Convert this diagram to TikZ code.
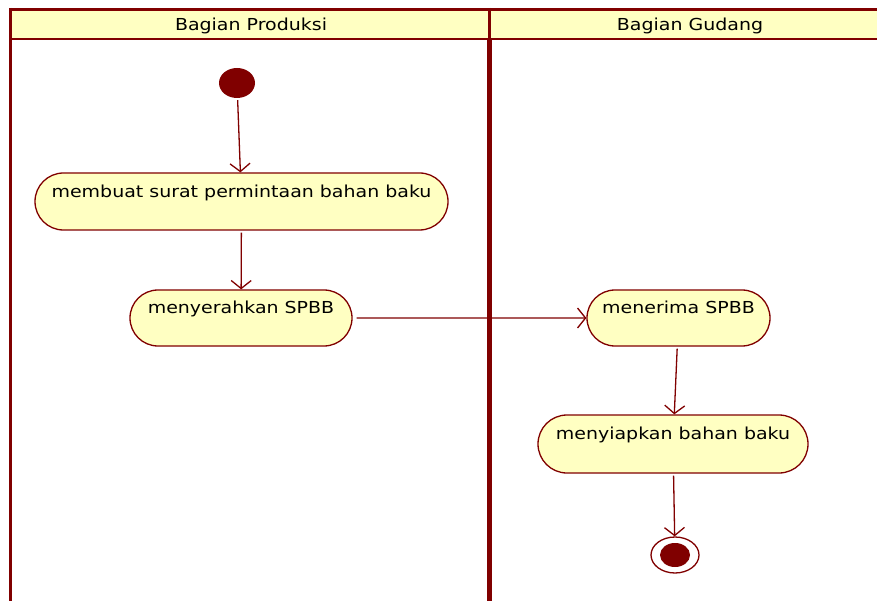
\documentclass[tikz,border=0pt]{standalone}
\usepackage{fontspec}
\setmainfont{DejaVu Sans}
\newfontfamily\umlfont[FakeStretch=1.15]{DejaVu Sans}
\usetikzlibrary{shapes.misc,shapes.geometric,arrows.meta}
\definecolor{umlred}{RGB}{128,0,0}
\definecolor{umlfill}{RGB}{255,255,194}
% label that does not widen its activity box
\newcommand\acttext[1]{\makebox[0pt]{#1}}
\tikzset{
  umltext/.style={font=\umlfont\fontsize{16.5}{18}\selectfont},
  activity/.style={umltext, rounded rectangle, draw=umlred, fill=umlfill, line width=1.3pt,
    inner xsep=0pt, inner ysep=0pt, text height=23.5pt, text depth=32pt},
  flow/.style={draw=umlred, line width=1.3pt, -{Straight Barb[length=8pt,width=20pt,line width=1.3pt]}},
  lanetitle/.style={umltext},
}
\begin{document}
\begin{tikzpicture}[x=1pt,y=-1pt]
\useasboundingbox (0,0) rectangle (877,601);
% swimlane header band and frame
\fill[umlfill] (10,10) rectangle (877,39);
\draw[umlred, line width=3pt] (10,9.5) -- (877,9.5);
\draw[umlred, line width=2pt] (10,39.5) -- (877,39.5);
\draw[umlred, line width=3pt] (10,8) -- (10,601);
\draw[umlred, line width=3pt] (489.5,8) -- (489.5,40);
\draw[umlred, line width=5pt] (489.5,40) -- (489.5,601);
\node[lanetitle] (lane1) at (251,26) {Bagian Produksi};
\node[lanetitle] (lane2) at (690,26) {Bagian Gudang};

% initial state
\node[ellipse, fill=umlred, minimum width=36pt, minimum height=30pt, inner sep=0pt] (start) at (237,83) {};

% activities
\node[activity, minimum width=413pt, minimum height=57pt] (a1) at (241.5,201.5) {\acttext{membuat surat permintaan bahan baku}};
\node[activity, minimum width=222pt, minimum height=56pt] (a2) at (241,318) {\acttext{menyerahkan SPBB}};
\node[activity, minimum width=183pt, minimum height=56pt] (a3) at (678.5,318) {\acttext{menerima SPBB}};
\node[activity, minimum width=270pt, minimum height=58pt] (a4) at (673,444) {\acttext{menyiapkan bahan baku}};

% final state
\node[ellipse, draw=umlred, line width=1.3pt, fill=white, minimum width=48pt, minimum height=36pt, inner sep=0pt] (end) at (675,555) {};
\node[ellipse, fill=umlred, minimum width=30pt, minimum height=24pt, inner sep=0pt] (endcore) at (675,555) {};

% control flows
\draw[flow, shorten <=2pt] (start) -- (a1);
\draw[flow, shorten <=2pt] (a1) -- (a2);
\draw[flow, shorten <=4pt] (a2) -- (a3);
\draw[flow, shorten <=2pt] (a3) -- (a4);
\draw[flow, shorten <=2pt] (a4) -- (end);
\end{tikzpicture}
\end{document}
